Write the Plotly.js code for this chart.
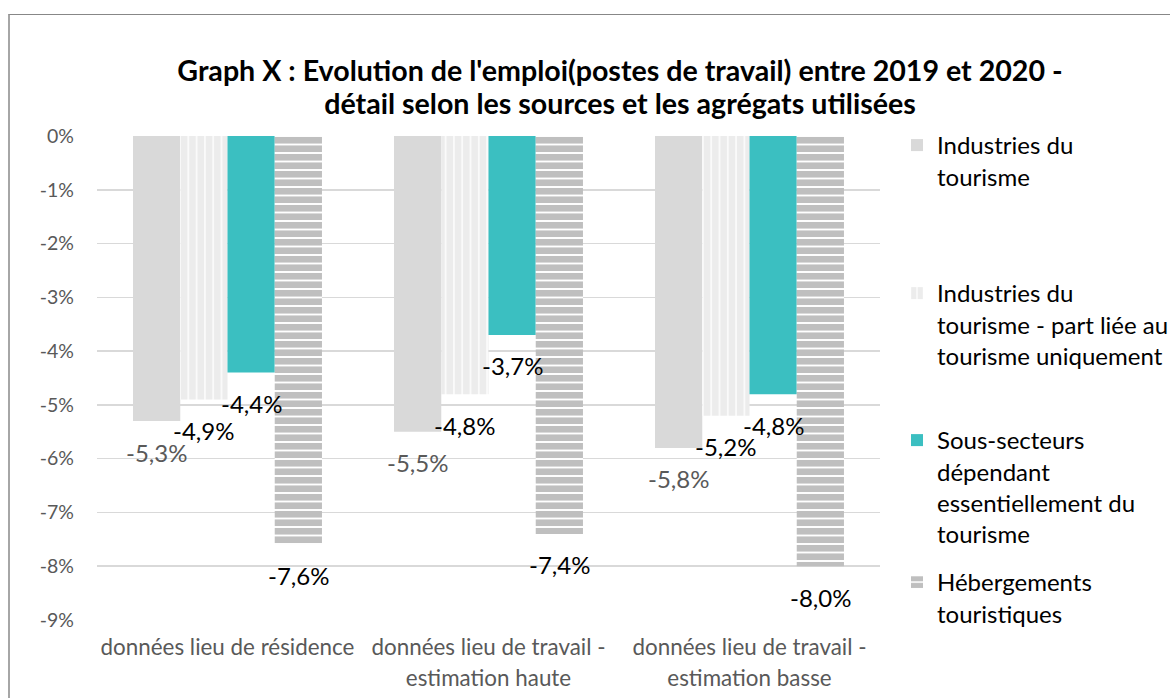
<!DOCTYPE html>
<html>
<head>
<meta charset="utf-8">
<script src="https://cdn.plot.ly/plotly-3.0.1.min.js"></script>
<style>
  html, body { margin: 0; padding: 0; background: #ffffff; overflow: hidden; }
  #frame { position: absolute; left: 8px; top: 14px; width: 1200px; height: 720px; border-top: 1px solid #878787; border-left: 2px solid #a6a6a6; pointer-events: none; z-index: 5; }
  #chart { position: absolute; left: 0; top: 0; width: 1170px; height: 698px; }
</style>
</head>
<body>
<div id="frame"></div>
<div id="chart"></div>
<script>
// ---- Data ----
const categories = [
  'données lieu de résidence',
  'données lieu de travail -<br>estimation haute',
  'données lieu de travail -<br>estimation basse'
];
const seriesNames = [
  'Industries du<br>tourisme',
  'Industries du<br>tourisme - part liée au<br>tourisme uniquement',
  'Sous-secteurs<br>dépendant<br>essentiellement du<br>tourisme',
  'Hébergements<br>touristiques'
];
const industriesTourisme = [-5.3, -5.5, -5.8];
const industriesPartTourisme = [-4.9, -4.8, -5.2];
const sousSecteurs = [-4.4, -3.7, -4.8];
const hebergements = [-7.6, -7.4, -8.0];
const yTickVals = [0, -1, -2, -3, -4, -5, -6, -7, -8, -9];
const yTickText = ['0%', '-1%', '-2%', '-3%', '-4%', '-5%', '-6%', '-7%', '-8%', '-9%'];
const titleText = "Graph X : Evolution de l'emploi(postes de travail) entre 2019 et 2020 -<br>détail selon les sources et les agrégats utilisées";

// ---- Styling ----
const FONT = 'Lato, "Open Sans", sans-serif';
const BARGAP = 0.276;
const allSeries = [industriesTourisme, industriesPartTourisme, sousSecteurs, hebergements];
const labelColors = ['#595959', '#000000', '#000000', '#000000'];

function wrapLines(txt, size) {
  return txt.split('<br>').map(l => '<span style="font-size:' + size + 'px">' + l + '</span>').join('<br>');
}
const catLabels = categories.map(c => wrapLines(c, 22.4));

const markers = [
  { color: '#d9d9d9', line: { width: 0 } },
  { color: '#d9d9d9', line: { width: 0 },
    pattern: { shape: '|', fillmode: 'overlay', fgcolor: '#d9d9d9', bgcolor: '#ffffff', size: 8.3, solidity: 0.84 } },
  { color: '#3bbfc1', line: { width: 0 } },
  { color: '#7f7f7f', line: { width: 0 },
    pattern: { shape: '-', fillmode: 'overlay', fgcolor: '#7f7f7f', bgcolor: '#ffffff', size: 8.5, solidity: 0.78 } }
];

const legendIds = ['legend', 'legend2', 'legend3', 'legend4'];
const traces = allSeries.map((vals, i) => ({
  type: 'bar',
  x: catLabels,
  y: vals,
  name: seriesNames[i],
  marker: markers[i],
  legend: legendIds[i],
  hoverinfo: 'skip'
}));

// value labels (outside end, below the bar), positioned via category index
const nS = allSeries.length;
const w = (1 - BARGAP) / nS;
const annotations = [];
allSeries.forEach((vals, i) => {
  vals.forEach((v, k) => {
    annotations.push({
      xref: 'x', yref: 'y',
      x: k - (1 - BARGAP) / 2 + w * (i + 0.5),
      y: v,
      yshift: -31,
      yanchor: 'middle', xanchor: 'center',
      text: v.toFixed(1).replace('.', ',') + '%',
      showarrow: false,
      font: { family: FONT, size: 24, color: labelColors[i] }
    });
  });
});

const PL = 97, PR = 880, PT = 136, PB = 620;
function px2x(px) { return (px - PL) / (PR - PL); }
function px2y(py) { return (PB - py) / (PB - PT); }
const legendTops = [123, 271, 418, 560];
const legendBase = {
  xanchor: 'left', yanchor: 'top', bgcolor: 'rgba(0,0,0,0)', borderwidth: 0,
  font: { family: FONT, size: 24, color: '#000000' }, valign: 'top', itemclick: false, itemdoubleclick: false
};
const layout = {
  width: 1170, height: 698,
  margin: { l: PL, r: 1170 - PR, t: PT, b: 698 - PB, pad: 0, autoexpand: false },
  paper_bgcolor: '#ffffff', plot_bgcolor: '#ffffff',
  barmode: 'group', bargap: BARGAP, bargroupgap: 0,
  title: {
    text: wrapLines(titleText, 28.6),
    font: { family: FONT, size: 25.4, color: '#000000', weight: 'bold' },
    xref: 'container', x: 620 / 1170, xanchor: 'center',
    yref: 'container', y: 1 - 81 / 698, yanchor: 'top'
  },
  xaxis: {
    type: 'category', tickfont: { family: FONT, size: 24, color: '#595959' },
    showgrid: false, zeroline: false, showline: false, ticks: '', ticklabelstandoff: 10,
    automargin: false, fixedrange: true
  },
  yaxis: {
    range: [-9, 0], tickvals: yTickVals, ticktext: yTickText,
    tickfont: { family: FONT, size: 19.5, color: '#595959' },
    showgrid: true, gridcolor: '#d9d9d9', gridwidth: 1.5, zeroline: false, showline: false,
    ticks: '', ticklabelstandoff: 22, automargin: false, fixedrange: true
  },
  showlegend: true,
  annotations: annotations
};
legendIds.forEach((id, i) => {
  layout[id] = Object.assign({}, legendBase, { x: px2x(897), y: px2y(legendTops[i]) });
});

Plotly.newPlot('chart', traces, layout, { displayModeBar: false, staticPlot: true });
</script>
</body>
</html>
